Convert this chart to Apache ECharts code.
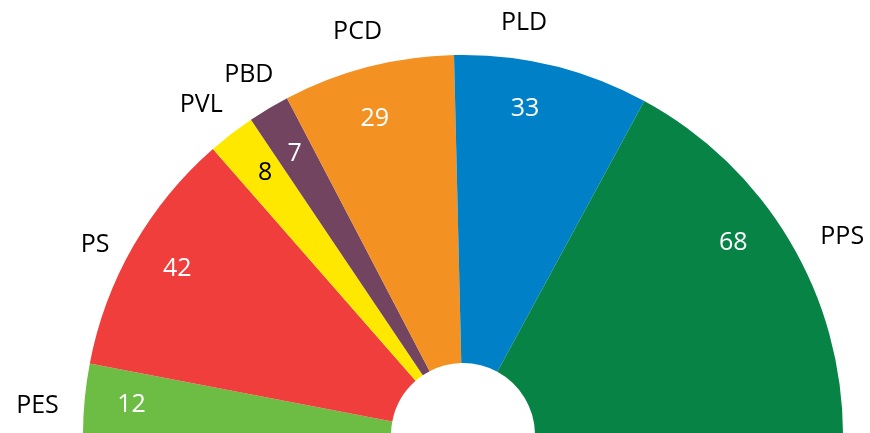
<!DOCTYPE html>
<html><head><meta charset="utf-8">
<script src="https://cdn.jsdelivr.net/npm/echarts@6/dist/echarts.min.js"></script>
<style>html,body{margin:0;padding:0;background:#fff}#c{width:870px;height:433px}</style>
</head><body><div id="c"></div>
<script>
const parties = ['PES','PS','PVL','PBD','PCD','PLD','PPS'];
const seats = [12,42,8,7,29,33,68];
const colors = ['#6dbd45','#ef3e3b','#ffe800','#734460','#f39222','#0080c6','#078445'];
const valueColors = ['#fff','#fff','#000','#fff','#fff','#fff','#fff'];

// label nudges (layout only)
const nameNudge = [[-5,8],[-5,7],[6,-16],[18,-20],[23,-20],[-60,-27],[12,4]];
const valueNudge = [[0,1],[3,0],[5,2],[2,5],[-5,6],[-16,-2],[-16,-22]];

const font = '"Open Sans", "Noto Sans", sans-serif';
const chart = echarts.init(document.getElementById('c'), null, {renderer:'canvas'});
const center = [463, 435];
chart.setOption({
  animation:false,
  series:[
    {
      type:'pie', center:center, radius:[72,380],
      startAngle:180, endAngle:0, clockwise:true,
      avoidLabelOverlap:false, silent:true,
      itemStyle:{borderWidth:0},
      label:{show:true, position:'outside', formatter:'{b}', color:'#000', fontSize:25, fontFamily:font},
      labelLine:{show:false, length:16, length2:0},
      labelLayout: p => ({dx:nameNudge[p.dataIndex][0], dy:nameNudge[p.dataIndex][1]}),
      data: parties.map((p,i)=>({name:p, value:seats[i], itemStyle:{color:colors[i]}}))
    },
    {
      type:'pie', center:center, radius:[280,380],
      startAngle:180, endAngle:0, clockwise:true,
      avoidLabelOverlap:false, silent:true,
      itemStyle:{color:'rgba(0,0,0,0)', borderWidth:0},
      label:{show:true, position:'inside', formatter:'{c}', fontSize:25, fontFamily:font},
      labelLine:{show:false},
      labelLayout: p => ({dx:valueNudge[p.dataIndex][0], dy:valueNudge[p.dataIndex][1]}),
      data: parties.map((p,i)=>({name:p, value:seats[i], label:{color:valueColors[i]}}))
    }
  ]
});
</script></body></html>
